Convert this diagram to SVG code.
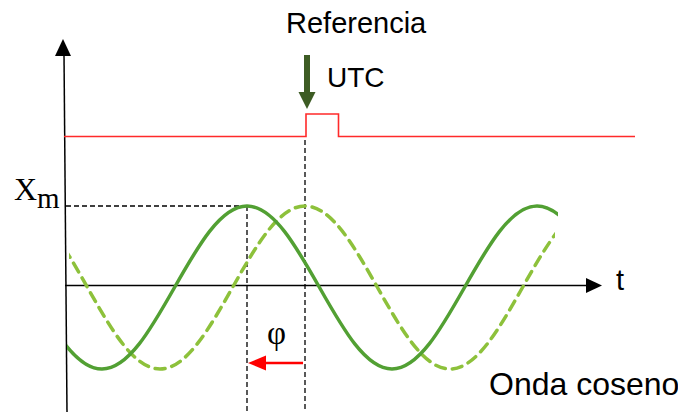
<svg xmlns="http://www.w3.org/2000/svg" width="678" height="412" viewBox="0 0 678 412">
<style>
.sans{font-family:"Liberation Sans",Arial,sans-serif;fill:#000}
.serif{font-family:"Liberation Serif","Times New Roman",serif;fill:#000}
.axis{stroke:#000;stroke-width:1.5;fill:none}
.guide{stroke:#000;stroke-width:1.3;stroke-dasharray:5 3;fill:none}
.wave{fill:none;stroke-width:3.5;stroke-linecap:round}
</style>
<defs>
<clipPath id="clipSolid"><rect x="67" y="190" width="491" height="200"/></clipPath>
<clipPath id="clipDash"><rect x="69" y="190" width="486" height="200"/></clipPath>
</defs>
<g id="axes">
<line class="axis" x1="64" y1="54" x2="67" y2="412"/>
<polygon points="63,39 55,56 71,56" fill="#000"/>
<line class="axis" x1="65" y1="285.5" x2="588" y2="285.5"/>
<polygon points="602,285.5 586,278 586,293" fill="#000"/>
</g>
<g id="reference-signal">
<path d="M64 136.5 H306 V114 H338.5 V136.5 H635" fill="none" stroke="#ff2a2a" stroke-width="1.6"/>
</g>
<g id="utc-arrow">
<rect x="304" y="55" width="6" height="39" fill="#3d5c24"/>
<polygon points="298.5,92 315.5,92 307,109" fill="#3d5c24"/>
</g>
<g id="guides">
<line class="guide" x1="66" y1="206" x2="247" y2="206"/>
<line class="guide" x1="247" y1="206" x2="247" y2="412"/>
<line class="guide" x1="305" y1="140" x2="305" y2="412"/>
</g>
<g id="dashed-wave">
<path class="wave" clip-path="url(#clipDash)" stroke="#8dc13b" stroke-dasharray="10 7" stroke-linecap="butt" d="M15 206 C41.24 206 63.86 245.75 87.5 287.5 C111.14 329.25 133.76 369 160 369 C186.24 369 208.86 329.25 232.5 287.5 C256.14 245.75 278.76 206 305 206 C331.24 206 353.86 245.75 377.5 287.5 C401.14 329.25 423.76 369 450 369 C476.24 369 498.86 329.25 522.5 287.5 C546.14 245.75 568.76 206 595 206"/>
</g>
<g id="solid-wave">
<path class="wave" clip-path="url(#clipSolid)" stroke="#52a033" d="M29.5 287.5 C53.14 329.25 75.76 369 102 369 C128.24 369 150.86 329.25 174.5 287.5 C198.14 245.75 220.76 206 247 206 C273.24 206 295.86 245.75 319.5 287.5 C343.14 329.25 365.76 369 392 369 C418.24 369 440.86 329.25 464.5 287.5 C488.14 245.75 510.76 206 537 206 C563.24 206 585.86 245.75 609.5 287.5"/>
</g>
<g id="phase-arrow">
<line x1="303" y1="363" x2="262" y2="363" stroke="#ff0000" stroke-width="2.5"/>
<polygon points="248,363 266,355.5 266,370.5" fill="#ff0000"/>
</g>
<g id="labels">
<text class="sans" x="286" y="33" font-size="29">Referencia</text>
<text class="sans" x="327" y="87" font-size="28">UTC</text>
<text class="sans" x="616" y="290" font-size="29">t</text>
<text class="sans" x="489" y="395" font-size="32">Onda coseno</text>
<text class="serif" x="14" y="200" font-size="32">X</text>
<text class="serif" x="37" y="208" font-size="29">m</text>
<text class="serif" x="267" y="344" font-size="33">φ</text>
</g>
</svg>
